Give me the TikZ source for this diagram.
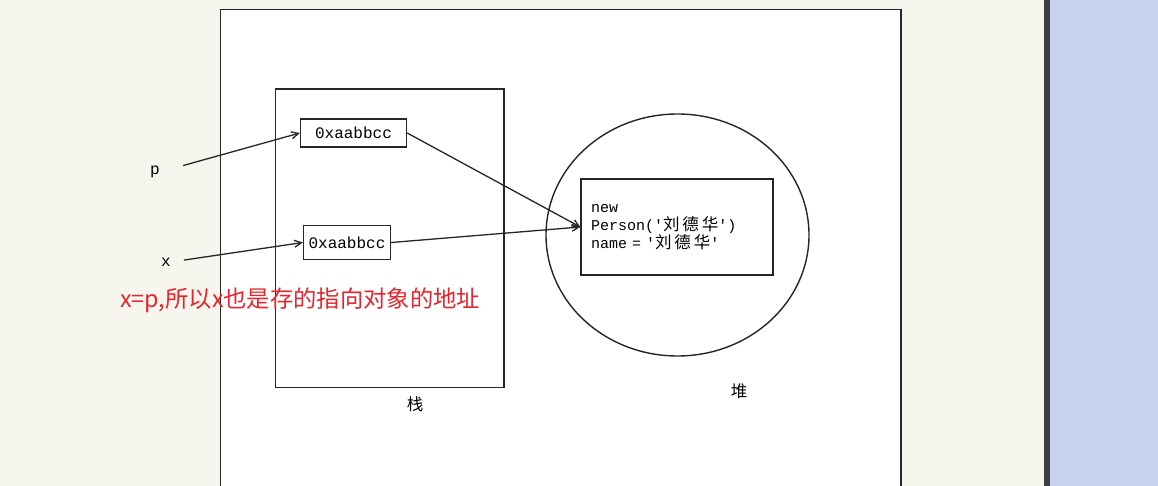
\documentclass[tikz,border=0pt]{standalone}
\usepackage{fontspec}
\setmainfont{Liberation Serif}
\newfontfamily\monof{Liberation Mono}
\newfontfamily\cjkf{Noto Sans CJK SC}
\newfontfamily\cjkwide[LetterSpace=18]{Noto Sans CJK SC}
\usetikzlibrary{arrows.meta}
\definecolor{bgc}{HTML}{F6F6EE}
\definecolor{bluec}{HTML}{C5D3EC}
\definecolor{barc}{HTML}{3E3F42}
\definecolor{linec}{HTML}{262626}
\definecolor{redc}{HTML}{E8242C}
\tikzset{
  membox/.style={draw=linec, line width=1.4pt, rectangle, inner sep=0pt, font=\monof\fontsize{16}{16}\selectfont},
  varlabel/.style={inner sep=0pt, font=\monof\fontsize{16}{16}\selectfont},
  cjklabel/.style={inner sep=0pt, font=\cjkf\fontsize{16.5}{16.5}\selectfont},
  arr/.style={draw=linec, line width=1.3pt, -{Straight Barb[length=7pt,width=7pt,line width=1.3pt]}},
}
\begin{document}
\begin{tikzpicture}[x=1pt,y=-1pt]
\useasboundingbox (0,0) rectangle (1158,486);
\clip (0,0) rectangle (1158,486);
% background
\fill[bgc] (0,0) rectangle (1044,486);
\fill[barc] (1043.5,0) rectangle (1050,486);
\fill[bluec] (1050,0) rectangle (1158,486);
% page
\filldraw[fill=white, draw=linec, line width=1.8pt] (220.5,9.5) rectangle (901,520);
% stack frame
\draw[linec, line width=1.5pt] (275.7,89) rectangle (504,387.3);
% heap circle
\draw[linec, line width=1.4pt] (677.5,235) ellipse [x radius=131.5, y radius=121];
% stack cells
\node[membox, minimum width=106pt, minimum height=28pt] (b1) at (353.5,133) {0xaabbcc};
\node[membox, minimum width=87pt, minimum height=34pt] (b2) at (347,242.5) {0xaabbcc};
% heap object
\node[draw=linec, line width=1.4pt, rectangle, minimum width=192pt, minimum height=96pt,
      text width=172pt, inner xsep=10pt, align=left,
      font=\monof\fontsize{15}{18}\selectfont] (obj) at (677,227)
  {new\\Person('{\cjkwide\fontsize{16.5}{18}\selectfont 刘德华}')\\name = '{\cjkwide\fontsize{16.5}{18}\selectfont 刘德华}'};
% variable labels
\node[varlabel] (p) at (155,172) {p};
\node[varlabel] (x) at (166,262) {x};
% captions
\node[cjklabel] (stk) at (415,404) {栈};
\node[cjklabel] (hp) at (739,391) {堆};
\node[inner sep=0pt, anchor=west, text=redc, font=\cjkf\fontsize{23.3}{23.3}\selectfont] (note) at (120,300)
  {x=p,所以x也是存的指向对象的地址};
% connectors
\draw[arr, shorten <=24pt] (p.east) -- (b1.west);
\draw[arr, shorten <=13pt] (x.east) -- (b2.west);
\draw[arr] (b1.east) -- (obj.west);
\draw[arr] (b2.east) -- (obj.west);
\end{tikzpicture}
\end{document}
